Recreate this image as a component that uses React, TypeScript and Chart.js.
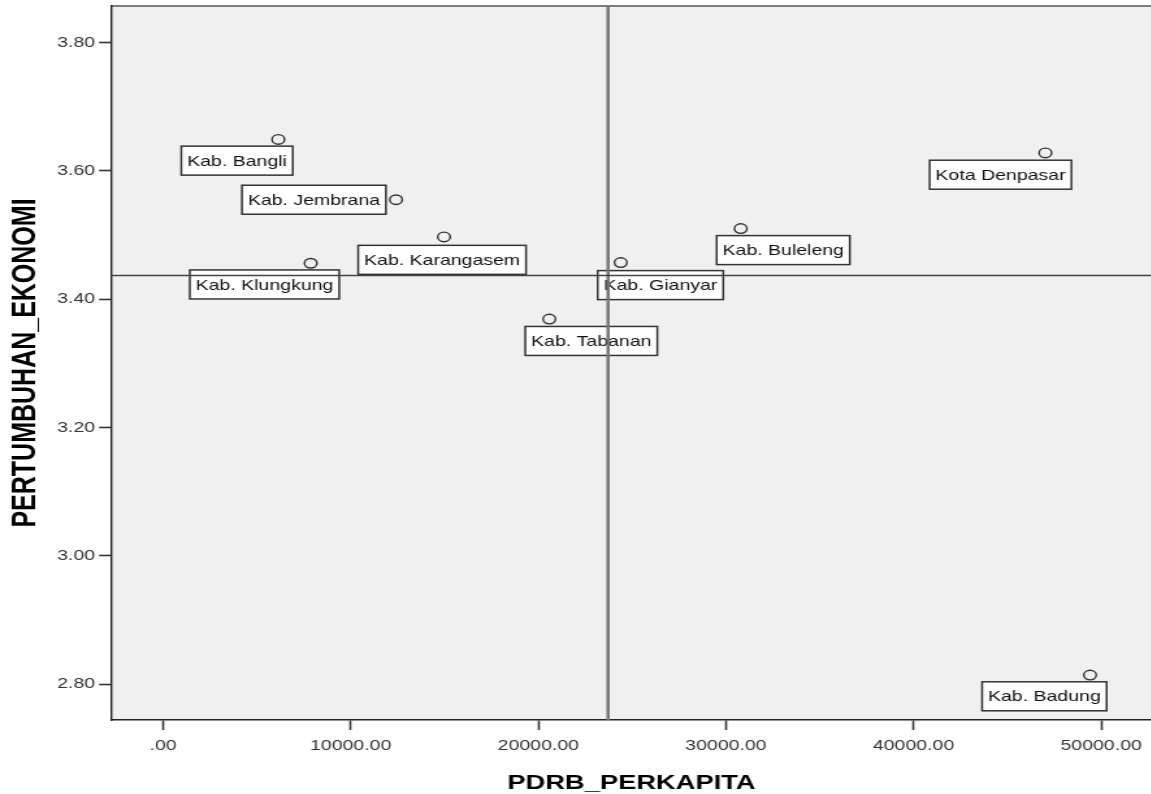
import React, { useEffect, useRef } from "react";
import { Chart, registerables } from "chart.js";

Chart.register(...registerables);

// ---- data ----
const regions = [
  "Kab. Jembrana",
  "Kab. Tabanan",
  "Kab. Badung",
  "Kab. Gianyar",
  "Kab. Klungkung",
  "Kab. Bangli",
  "Kab. Karangasem",
  "Kab. Buleleng",
  "Kota Denpasar",
];
const pdrbPerkapita = [12415, 20586, 49408, 24392, 7868, 6141, 14973, 30789, 47026];
const pertumbuhanEkonomi = [3.555, 3.369, 2.814, 3.457, 3.456, 3.649, 3.497, 3.51, 3.628];

// reference lines (means)
const meanPdrb = 23716;
const meanGrowth = 3.437;

// axis ticks and ranges
const xTickValues = [0, 10000, 20000, 30000, 40000, 50000];
const yTickValues = [2.8, 3.0, 3.2, 3.4, 3.6, 3.8];
const xRange = [-2777, 52700];
const yRange = [2.744, 3.857];

// label box placement relative to its point (px, box left / top)
const labelDx = [-118.5, -18.5, -83, -17.7, -93, -74.6, -66, -18.5, -89];
const labelDy = [-14.5, 7.4, 6.7, 8, 6.7, 6.7, 8.4, 7, 7.3];

const FONT = '"Liberation Sans", Arial, Helvetica, sans-serif';
const STRETCH = 1.3;
const W = 886;
const H = 794;

const chartPlugin = {
  id: "spssDecor",
  beforeDraw(chart: any) {
    const { ctx, chartArea: a } = chart;
    ctx.save();
    ctx.fillStyle = "#f0f0f0";
    ctx.fillRect(a.left, a.top, a.right - a.left + 4, a.bottom - a.top);
    ctx.strokeStyle = "#7d7d7d";
    ctx.lineWidth = 2;
    ctx.beginPath();
    ctx.moveTo(a.left, a.top);
    ctx.lineTo(a.right + 4, a.top);
    ctx.stroke();
    ctx.restore();
  },
  beforeDatasetsDraw(chart: any) {
    const { ctx } = chart;
    const meta = chart.getDatasetMeta(0);
    ctx.save();
    ctx.font = `15px ${FONT}`;
    ctx.textBaseline = "middle";
    ctx.textAlign = "left";
    const padX = 4.5;
    const boxH = 29;
    meta.data.forEach((el: any, i: number) => {
      const text = regions[i];
      const tw = ctx.measureText(text).width;
      const bx = el.x + labelDx[i];
      const by = el.y + labelDy[i];
      const bw = tw + padX * 2;
      ctx.fillStyle = "#ffffff";
      ctx.fillRect(bx, by, bw, boxH);
      ctx.strokeStyle = "#333333";
      ctx.lineWidth = 1.5;
      ctx.strokeRect(bx, by, bw, boxH);
      ctx.fillStyle = "#111111";
      ctx.fillText(text, bx + padX, by + boxH / 2 + 1);
    });
    ctx.restore();
  },
};

const zeroPadding = (scale: any) => {
  scale.paddingTop = 0;
  scale.paddingBottom = 0;
  scale.paddingLeft = 0;
  scale.paddingRight = 0;
};

export default function App() {
  const canvasRef = useRef<HTMLCanvasElement | null>(null);

  useEffect(() => {
    document.body.style.margin = "0";
    document.body.style.overflow = "hidden";
    const canvas = canvasRef.current;
    if (!canvas) return;
    const points = pdrbPerkapita.map((x, i) => ({ x, y: pertumbuhanEkonomi[i] }));
    const chart = new Chart(canvas, {
      type: "scatter",
      data: {
        datasets: [
          {
            label: "Wilayah",
            data: points,
            pointRadius: 4.8,
            pointHoverRadius: 4.8,
            pointBorderWidth: 1.4,
            borderColor: "#333333",
            backgroundColor: "rgba(0,0,0,0)",
          },
          {
            type: "line",
            label: "meanY",
            data: [
              { x: xRange[0], y: meanGrowth },
              { x: xRange[1], y: meanGrowth },
            ],
            borderColor: "#454545",
            borderWidth: 1.5,
            pointRadius: 0,
            fill: false,
          } as any,
          {
            type: "line",
            label: "meanX",
            data: [
              { x: meanPdrb, y: yRange[0] },
              { x: meanPdrb, y: yRange[1] },
            ],
            borderColor: "#767676",
            borderWidth: 2.5,
            pointRadius: 0,
            fill: false,
          } as any,
        ],
      },
      options: {
        responsive: false,
        animation: false,
        devicePixelRatio: 1,
        layout: { autoPadding: false, padding: { top: 6, right: 0, left: 0, bottom: 0 } },
        plugins: {
          legend: { display: false },
          tooltip: { enabled: false },
        },
        events: [],
        scales: {
          x: {
            type: "linear",
            min: xRange[0],
            max: xRange[1],
            afterBuildTicks: (axis: any) => {
              axis.ticks = xTickValues.map((v) => ({ value: v }));
            },
            afterFit: (scale: any) => {
              scale.height = 74;
              zeroPadding(scale);
            },
            ticks: {
              autoSkip: false,
              maxRotation: 0,
              padding: 7,
              color: "#333333",
              font: { family: FONT, size: 15 },
              callback: (v: any) => (Number(v) === 0 ? ".00" : Number(v).toFixed(2)),
            },
            grid: {
              drawOnChartArea: false,
              drawTicks: true,
              tickLength: 10,
              tickWidth: 1.6,
              tickColor: "#333333",
            },
            border: { display: true, color: "#222222", width: 1.6 },
            title: {
              display: true,
              text: "PDRB_PERKAPITA",
              color: "#000000",
              font: { family: FONT, size: 21, weight: "bold", lineHeight: 1.05 },
              padding: { top: 0, bottom: 0 },
            },
          },
          y: {
            type: "linear",
            min: yRange[0],
            max: yRange[1],
            afterBuildTicks: (axis: any) => {
              axis.ticks = yTickValues.map((v) => ({ value: v }));
            },
            afterFit: (scale: any) => {
              scale.width = 111 / STRETCH;
              zeroPadding(scale);
            },
            ticks: {
              autoSkip: false,
              padding: 3,
              color: "#333333",
              font: { family: FONT, size: 15 },
              callback: (v: any) => Number(v).toFixed(2),
            },
            grid: {
              drawOnChartArea: false,
              drawTicks: true,
              tickLength: 9.2,
              tickWidth: 1.6,
              tickColor: "#333333",
            },
            border: { display: true, color: "#222222", width: 1.4 },
            title: {
              display: true,
              text: "PERTUMBUHAN_EKONOMI",
              color: "#000000",
              font: { family: FONT, size: 25, weight: "bold" },
              padding: { top: 5, bottom: 0 },
            },
          },
        },
      },
      plugins: [chartPlugin],
    } as any);
    return () => chart.destroy();
  }, []);

  return (
    <div
      style={{
        position: "fixed",
        left: 0,
        top: 0,
        width: 1151,
        height: 794,
        overflow: "hidden",
        background: "#ffffff",
      }}
    >
      <div
        style={{
          width: W,
          height: H,
          transform: `scaleX(${STRETCH})`,
          transformOrigin: "0 0",
        }}
      >
        <canvas
          ref={canvasRef}
          width={W}
          height={H}
          style={{ width: W, height: H, display: "block" }}
        />
      </div>
    </div>
  );
}
